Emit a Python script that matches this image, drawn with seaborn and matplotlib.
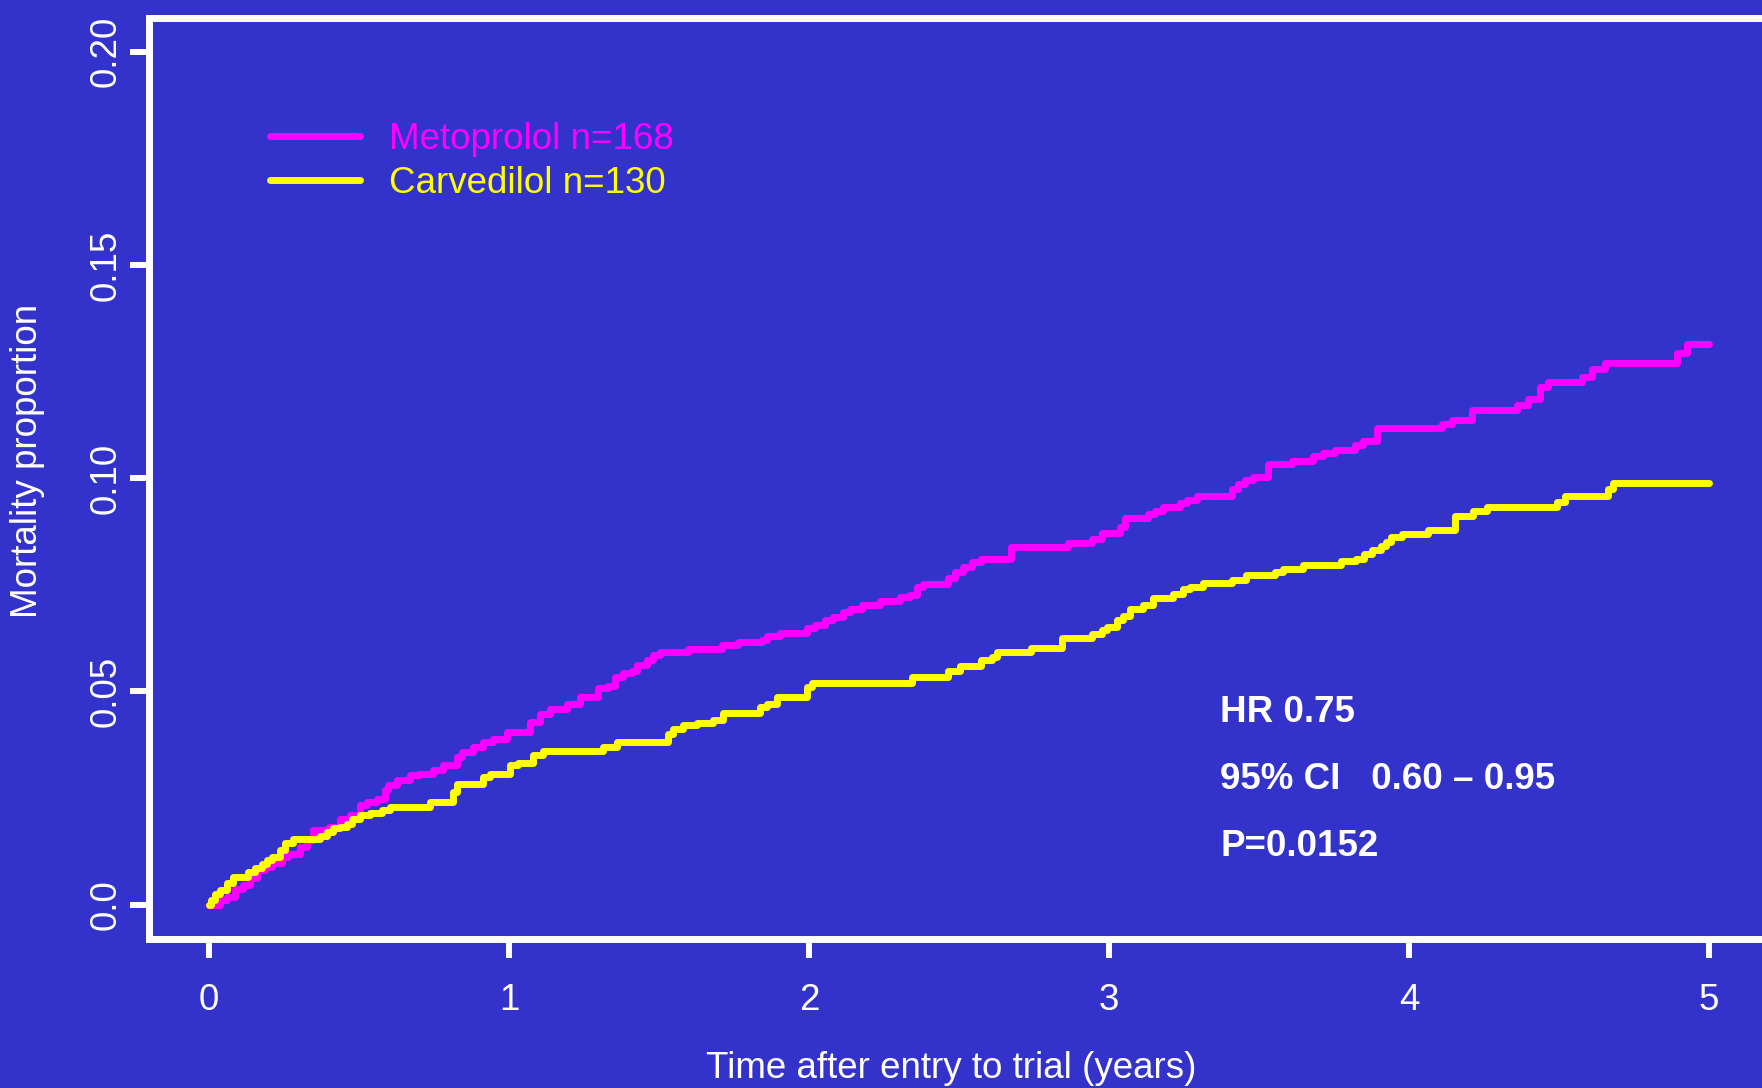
import numpy as np
import pandas as pd
import matplotlib
matplotlib.use("Agg")
import matplotlib.pyplot as plt
import seaborn as sns

# ---------------- data ----------------
groups = ["Metoprolol n=168", "Carvedilol n=130"]
colors = ["#FF00FF", "#FFFF00"]

meto_t = [0.0, 0.037, 0.059, 0.087, 0.114, 0.137, 0.159, 0.187, 0.209, 0.242, 0.264,
          0.303, 0.326, 0.348, 0.40, 0.437, 0.47, 0.503, 0.526, 0.559, 0.587, 0.598,
          0.626, 0.67, 0.70, 0.748, 0.781, 0.826, 0.842, 0.881, 0.914, 0.948, 0.992,
          1.07, 1.103, 1.137, 1.192, 1.237, 1.298, 1.331, 1.353, 1.381, 1.409, 1.426,
          1.459, 1.481, 1.503, 1.598, 1.709, 1.764, 1.842, 1.859, 1.903, 1.992, 2.02,
          2.053, 2.081, 2.114, 2.137, 2.176, 2.237, 2.303, 2.337, 2.359, 2.381, 2.464,
          2.487, 2.514, 2.542, 2.572, 2.672, 2.864, 2.942, 2.976, 3.037, 3.053, 3.131,
          3.153, 3.181, 3.237, 3.259, 3.292, 3.409, 3.431, 3.453, 3.481, 3.531, 3.609,
          3.681, 3.714, 3.753, 3.82, 3.848, 3.892, 4.109, 4.142, 4.209, 4.359, 4.398,
          4.437, 4.464, 4.576, 4.609, 4.653, 4.894, 4.926, 5.0]
meto_v = [0.0, 0.0011, 0.0019, 0.0038, 0.0046, 0.0062, 0.0081, 0.0089, 0.0097, 0.0112, 0.0120,
          0.0136, 0.0151, 0.0175, 0.0182, 0.0202, 0.0210, 0.0233, 0.0241, 0.0249, 0.0268, 0.0280,
          0.0292, 0.0304, 0.0307, 0.0315, 0.0327, 0.0346, 0.0358, 0.0370, 0.0382, 0.0389, 0.0405,
          0.0428, 0.0448, 0.0460, 0.0471, 0.0487, 0.0507, 0.0514, 0.0534, 0.0543, 0.0549, 0.0561,
          0.0573, 0.0585, 0.0592, 0.0600, 0.0608, 0.0616, 0.0620, 0.0629, 0.0637, 0.0649, 0.0657,
          0.0667, 0.0674, 0.0686, 0.0694, 0.0702, 0.0713, 0.0721, 0.0727, 0.0745, 0.0751, 0.0767,
          0.0780, 0.0791, 0.0803, 0.0811, 0.0838, 0.0848, 0.0858, 0.0871, 0.0885, 0.0907, 0.0916,
          0.0924, 0.0933, 0.0941, 0.0949, 0.0959, 0.0975, 0.0987, 0.0996, 0.1004, 0.1034, 0.1041,
          0.1051, 0.1058, 0.1066, 0.1079, 0.1088, 0.1117, 0.1127, 0.1137, 0.1160, 0.1172, 0.1186,
          0.1213, 0.1225, 0.1238, 0.1256, 0.1271, 0.1293, 0.1315, 0.1315]

carv_t = [0.0, 0.005, 0.02, 0.037, 0.06, 0.081, 0.131, 0.153, 0.175, 0.192, 0.209, 0.237,
          0.253, 0.281, 0.37, 0.392, 0.414, 0.437, 0.459, 0.476, 0.503, 0.537, 0.576, 0.603,
          0.737, 0.814, 0.826, 0.914, 0.937, 1.003, 1.03, 1.081, 1.114, 1.314, 1.359, 1.531,
          1.548, 1.581, 1.626, 1.681, 1.714, 1.837, 1.859, 1.892, 1.992, 2.009, 2.342, 2.464,
          2.503, 2.572, 2.611, 2.628, 2.739, 2.842, 2.942, 2.976, 2.992, 3.026, 3.048, 3.07,
          3.114, 3.148, 3.214, 3.248, 3.27, 3.314, 3.411, 3.456, 3.553, 3.581, 3.648, 3.772,
          3.822, 3.85, 3.878, 3.906, 3.922, 3.939, 3.976, 4.064, 4.153, 4.214, 4.259, 4.492,
          4.52, 4.664, 4.681, 5.0]
carv_v = [0.0, 0.0012, 0.0026, 0.0034, 0.0050, 0.0065, 0.0077, 0.0085, 0.0095, 0.0104, 0.0112, 0.0128,
          0.0144, 0.0154, 0.0161, 0.0171, 0.0179, 0.0182, 0.0190, 0.0202, 0.0210, 0.0214, 0.0222, 0.0229,
          0.0241, 0.0264, 0.0284, 0.0300, 0.0307, 0.0327, 0.0333, 0.0350, 0.0360, 0.0370, 0.0382, 0.0401,
          0.0413, 0.0421, 0.0426, 0.0434, 0.0449, 0.0463, 0.0471, 0.0487, 0.0510, 0.0520, 0.0535, 0.0549,
          0.0559, 0.0573, 0.0580, 0.0592, 0.0602, 0.0625, 0.0635, 0.0645, 0.0651, 0.0667, 0.0678, 0.0694,
          0.0702, 0.0720, 0.0729, 0.0741, 0.0746, 0.0754, 0.0762, 0.0772, 0.0780, 0.0788, 0.0797, 0.0805,
          0.0811, 0.0823, 0.0832, 0.0840, 0.0850, 0.0862, 0.0870, 0.0879, 0.0912, 0.0922, 0.0932, 0.0944,
          0.0959, 0.0975, 0.0989, 0.0989]

x_ticks = [0, 1, 2, 3, 4, 5]
x_tick_labels = ["0", "1", "2", "3", "4", "5"]
y_ticks = [0.0, 0.05, 0.10, 0.15, 0.20]
y_tick_labels = ["0.0", "0.05", "0.10", "0.15", "0.20"]
stats_lines = ["HR 0.75", "95% CI   0.60 \u2013 0.95", "P=0.0152"]
x_label = "Time after entry to trial (years)"
y_label = "Mortality proportion"

# ---------------- style ----------------
BG = "#3333CC"
sns.set_style("ticks")
plt.rcParams["font.family"] = ["Liberation Sans", "DejaVu Sans"]
FS = 26.5

df = pd.concat([
    pd.DataFrame({"time": meto_t, "mortality": meto_v, "group": groups[0]}),
    pd.DataFrame({"time": carv_t, "mortality": carv_v, "group": groups[1]}),
], ignore_index=True)

fig = plt.figure(figsize=(17.62, 10.88), dpi=100, facecolor=BG)
left, right, bottom, top = 0.0846, 1.004, 0.1371, 0.9838
ax = fig.add_axes([left, bottom, right - left, top - bottom])
ax.set_facecolor(BG)

sns.lineplot(data=df, x="time", y="mortality", hue="group", hue_order=groups,
             palette=colors, drawstyle="steps-post", linewidth=5.0,
             estimator=None, legend=False, ax=ax)

ax.set_xlim(-0.2, 5.2)
ax.set_ylim(-0.008, 0.208)

# spines
for s in ["left", "bottom", "top"]:
    ax.spines[s].set_color("white")
    ax.spines[s].set_linewidth(5)
ax.spines["right"].set_visible(False)

ax.set_xticks(x_ticks)
ax.set_xticklabels(x_tick_labels)
ax.set_yticks(y_ticks)
ax.set_yticklabels(y_tick_labels, rotation=90, va="center")
ax.tick_params(axis="both", colors="white", width=4.3, length=13.5,
               direction="out", labelsize=FS)
ax.tick_params(axis="x", pad=18)
ax.tick_params(axis="y", pad=5)

ax.set_xlabel(x_label, fontsize=FS, color="white")
ax.set_ylabel(y_label, fontsize=FS, color="white")
ax.xaxis.label.set_va("center")
ax.yaxis.label.set_va("center")
ax.xaxis.set_label_coords(0.495, -0.1407)
ax.yaxis.set_label_coords(-0.0752, 0.5187)

# legend
lines = ax.get_lines()[:2]
leg = ax.legend(lines, groups, loc="upper left", bbox_to_anchor=(0.0747, 0.887),
                frameon=False, fontsize=FS, handlelength=2.43, handletextpad=0.81,
                labelspacing=0.24, borderpad=0, borderaxespad=0)
for txt, c in zip(leg.get_texts(), colors):
    txt.set_color(c)

# stats
for yv, s in zip([0.0451, 0.0294, 0.0137], stats_lines):
    ax.text(3.37, yv, s, fontsize=FS, fontweight="bold", color="white",
            ha="left", va="center")

fig.savefig("out.png", dpi=100, facecolor=BG)
